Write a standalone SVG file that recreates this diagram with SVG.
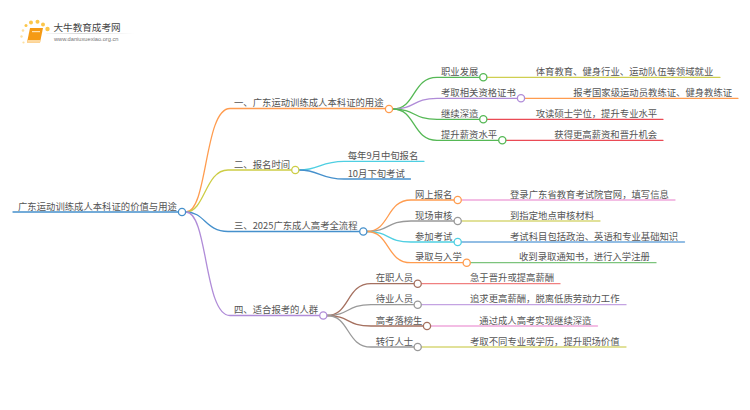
<svg xmlns="http://www.w3.org/2000/svg" width="750" height="410" viewBox="0 0 750 410">
<style>
text{font-family:"Noto Sans CJK SC","Liberation Sans",sans-serif;font-size:9.35px;fill:#555}
path{fill:none;stroke-width:1.3;stroke-linecap:round}
circle{fill:#fff;stroke-width:1.3}
.or{stroke:#ff9c4f}.ye{stroke:#cdcd45}.bl{stroke:#4590cc}.pu{stroke:#b08cd8}.gr{stroke:#55b855}.cy{stroke:#4fcfe2}.ga{stroke:#999}.br{stroke:#a5705f}.re{stroke:#ea4a55}.pi{stroke:#f0a8dc}.ly{stroke:#d8d878}.lb{stroke:#6fa8dc}.lg{stroke:#7cc47c}.lr{stroke:#f08080}.lp{stroke:#c4a3e2}.yg{stroke:#cfcf50}
.d1{fill:#fbc64a;stroke:none}.d2{fill:#fde0a0;stroke:none}
</style>
<defs><linearGradient id="fade"><stop offset="0" stop-color="#ccc" stop-opacity="0.2"/><stop offset="0.4" stop-color="#ccc"/><stop offset="1" stop-color="#ccc" stop-opacity="0"/></linearGradient></defs>
<g id="logo">
<circle class="d1" cx="26" cy="25.500" r="1.500"/><circle class="d1" cx="31" cy="22.500" r="2"/><circle class="d1" cx="37.500" cy="21.800" r="2"/><circle class="d1" cx="43" cy="24.500" r="2"/><circle class="d1" cx="47.500" cy="29" r="2.200"/><circle class="d2" cx="23" cy="30.500" r="1.300"/><circle class="d2" cx="21.500" cy="36.500" r="1.200"/><circle class="d2" cx="23.500" cy="42.500" r="1.100"/>
<polygon points="30,28 43,28 40,42.500 27,42.500" fill="#f59a14"/>
<polygon points="27.500,40 40.500,40 40,42.500 27,42.500" fill="#fdd9a0"/>
<rect x="32" y="31" width="8" height="1.200" fill="#ffe2b0"/>
<rect x="46" y="33" width="88" height="0.800" fill="url(#fade)"/>
<text x="53.500" y="31" style="font-size:9.6px;fill:#444">大牛教育成考网</text>
<text x="54" y="40.500" style="font-size:5.700px;fill:#777;font-family:'Liberation Sans',sans-serif">www.daniuxuexiao.org.cn</text>
</g>
<g id="connectors">
<path class="bl" d="M13 212H178"/>
<path class="or" d="M186 212C208 212 204 108.500 230 108.500H385"/>
<path class="ye" d="M186 212C205 212 205 170 228 170H291.500"/>
<path class="bl" d="M186 212C205 212 205 231.500 228 231.500H359.500"/>
<path class="pu" d="M186 212C208 212 204 315.500 230 315.500H319.500"/>
<path class="gr" d="M393 109C416 109 412 77.300 437 77.300H479.500"/>
<path class="pu" d="M393 109C416 109 412 98.300 437 98.300H517.500"/>
<path class="gr" d="M393 109C416 109 412 119.300 437 119.300H479.500"/>
<path class="gr" d="M393 109C416 109 412 140.300 437 140.300H498.500"/>
<path class="yg" d="M487 77.300H720"/>
<path class="or" d="M524.500 98.300H738"/>
<path class="re" d="M487 119.300H663"/>
<path class="re" d="M505.500 140.300H663"/>
<path class="cy" d="M299 170C320 170 320 161.300 344 161.300H424"/>
<path class="bl" d="M299 170C320 170 320 179 344 179H410.500"/>
<path class="or" d="M367 231.500C390 231.500 386 200 411 200H454"/>
<path class="ga" d="M367 231.500C390 231.500 386 221 411 221H454"/>
<path class="cy" d="M367 231.500C390 231.500 386 242 411 242H454"/>
<path class="or" d="M367 231.500C390 231.500 386 262.700 411 262.700H463"/>
<path class="pi" d="M461.500 200H675"/>
<path class="ly" d="M461.500 221H600"/>
<path class="lb" d="M461.500 242H684.500"/>
<path class="lg" d="M470.500 262.700H656"/>
<path class="br" d="M327 315.500C350 315.500 346 283.700 371 283.700H414"/>
<path class="ga" d="M327 315.500C350 315.500 346 304.700 371 304.700H414"/>
<path class="br" d="M327 315.500C350 315.500 346 326 371 326H423.500"/>
<path class="ga" d="M327 315.500C350 315.500 346 347 371 347H414"/>
<path class="lr" d="M421.500 283.700H560"/>
<path class="lp" d="M421.500 304.700H626"/>
<path class="pi" d="M431 326H597.500"/>
<path class="ly" d="M421.500 347H626"/>
</g>
<g id="root"><text x="18" y="209.500">广东运动训练成人本科证的价值与用途</text><circle class="bl" cx="182" cy="212" r="3.600"/></g>
<g id="b1"><text x="234" y="106">一、广东运动训练成人本科证的用途</text><circle class="or" cx="389" cy="109" r="3.600"/></g>
<g id="b2"><text x="234" y="167.500">二、报名时间</text><circle class="ye" cx="295.300" cy="170" r="3.600"/></g>
<g id="b3"><text x="234" y="229">三、2025广东成人高考全流程</text><circle class="bl" cx="363.300" cy="231.500" r="3.600"/></g>
<g id="b4"><text x="234" y="313">四、适合报考的人群</text><circle class="pu" cx="323.300" cy="315.500" r="3.600"/></g>
<g id="n11"><text x="441" y="74.800">职业发展</text><circle class="gr" cx="483.300" cy="77.300" r="3.600"/></g>
<g id="n12"><text x="441" y="95.800">考取相关资格证书</text><circle class="pu" cx="521" cy="98.300" r="3.600"/></g>
<g id="n13"><text x="441" y="116.800">继续深造</text><circle class="gr" cx="483.300" cy="119.300" r="3.600"/></g>
<g id="n14"><text x="441" y="137.800">提升薪资水平</text><circle class="gr" cx="502.300" cy="140.300" r="3.600"/></g>
<g id="l11"><text x="535.700" y="74.800">体育教育、健身行业、运动队伍等领域就业</text></g>
<g id="l12"><text x="573.300" y="95.800">报考国家级运动员教练证、健身教练证</text></g>
<g id="l13"><text x="535.700" y="116.800">攻读硕士学位，提升专业水平</text></g>
<g id="l14"><text x="554.300" y="137.800">获得更高薪资和晋升机会</text></g>
<g id="l21"><text x="347.700" y="158.800">每年9月中旬报名</text></g>
<g id="l22"><text x="347.700" y="176.500">10月下旬考试</text></g>
<g id="n31"><text x="415" y="197.500">网上报名</text><circle class="or" cx="457.700" cy="200" r="3.600"/></g>
<g id="n32"><text x="415" y="218.500">现场审核</text><circle class="ga" cx="457.700" cy="221" r="3.600"/></g>
<g id="n33"><text x="415" y="239.500">参加考试</text><circle class="cy" cx="457.700" cy="242" r="3.600"/></g>
<g id="n34"><text x="415" y="260.200">录取与入学</text><circle class="or" cx="466.700" cy="262.700" r="3.600"/></g>
<g id="l31"><text x="510" y="197.500">登录广东省教育考试院官网，填写信息</text></g>
<g id="l32"><text x="510" y="218.500">到指定地点审核材料</text></g>
<g id="l33"><text x="510" y="239.500">考试科目包括政治、英语和专业基础知识</text></g>
<g id="l34"><text x="519" y="260.200">收到录取通知书，进行入学注册</text></g>
<g id="n41"><text x="375.700" y="281.200">在职人员</text><circle class="br" cx="417.700" cy="283.700" r="3.600"/></g>
<g id="n42"><text x="375.700" y="302.200">待业人员</text><circle class="ga" cx="417.700" cy="304.700" r="3.600"/></g>
<g id="n43"><text x="375.700" y="323.500">高考落榜生</text><circle class="br" cx="427" cy="326" r="3.600"/></g>
<g id="n44"><text x="375.700" y="344.500">转行人士</text><circle class="ga" cx="417.700" cy="347" r="3.600"/></g>
<g id="l41"><text x="470" y="281.200">急于晋升或提高薪酬</text></g>
<g id="l42"><text x="470" y="302.200">追求更高薪酬，脱离低质劳动力工作</text></g>
<g id="l43"><text x="479.300" y="323.500">通过成人高考实现继续深造</text></g>
<g id="l44"><text x="470" y="344.500">考取不同专业或学历，提升职场价值</text></g>
</svg>
